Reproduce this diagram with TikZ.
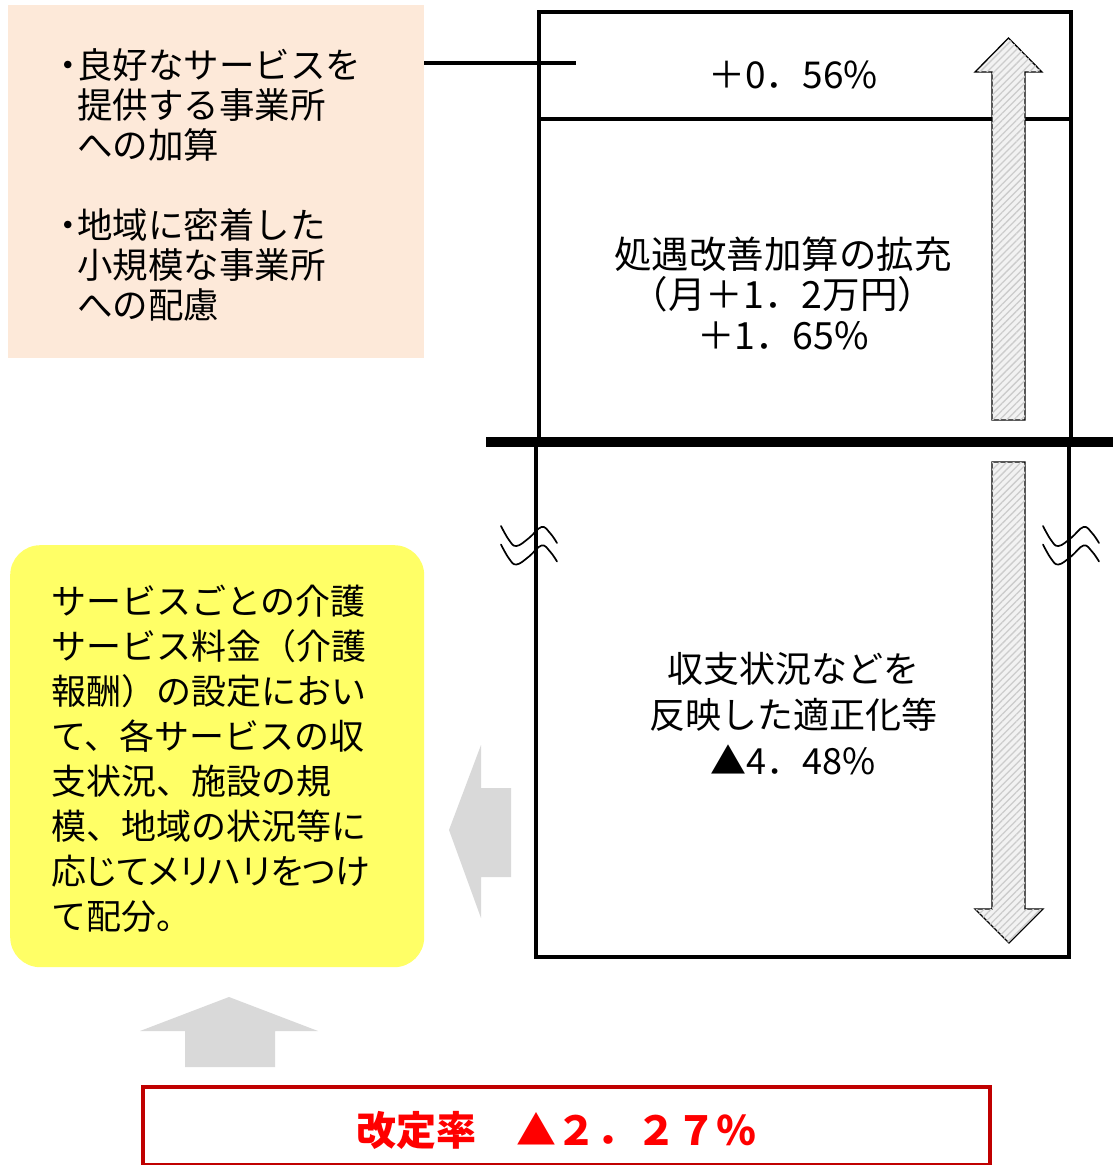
\documentclass[tikz,border=0pt]{standalone}
\usepackage{fontspec}
\usetikzlibrary{patterns.meta}
\newfontfamily\jp{Noto Sans CJK JP}
\newfontfamily\jpprop[RawFeature=+palt]{Noto Sans CJK JP}
\definecolor{peach}{HTML}{FDE9D9}
\definecolor{yel}{HTML}{FFFF66}
\definecolor{garrow}{HTML}{D9D9D9}
\definecolor{darkred}{HTML}{C00000}
\tikzset{
  boxline/.style={draw=black, line width=4.2pt},
  hatcharrow/.style={draw=black, line width=1.3pt, fill=gray!10, postaction={pattern={Lines[angle=45, distance=5pt, line width=1.3pt]}, pattern color=gray!40}},
  grayarrow/.style={fill=garrow, draw=none},
  breakmark/.style={draw=black, line width=1.7pt, line cap=round},
  txt/.style={inner sep=0pt, font=\jp, align=center},
}
\begin{document}
\begin{tikzpicture}[x=1pt, y=-1pt]
\useasboundingbox (0,0) rectangle (1113,1165);
\fill[white] (0,0) rectangle (1113,1165);

% peach box
\node[fill=peach, minimum width=416pt, minimum height=353pt, inner sep=0pt, anchor=north west] (peach) at (8,5) {};
\node[txt, align=left, anchor=west, font=\jp\fontsize{35.5}{40}\selectfont] (peachtxt) at (59,185)
 {\makebox[18pt][c]{・}良好なサービスを\\\hspace*{18pt}提供する事業所\\\hspace*{18pt}への加算\\[40pt]\makebox[18pt][c]{・}地域に密着した\\\hspace*{18pt}小規模な事業所\\\hspace*{18pt}への配慮};

% main boxes
\node[boxline, minimum width=532pt, minimum height=107pt, inner sep=0pt, anchor=north west] (topbox) at (537,10) {};
\node[boxline, minimum width=532pt, minimum height=325pt, inner sep=0pt, anchor=north west] (midbox) at (537,117) {};
\node[boxline, minimum width=533pt, minimum height=513pt, inner sep=0pt, anchor=north west] (lowbox) at (534,442) {};
\coordinate (thickL) at (486,442);
\coordinate (thickR) at (1113,442);
\draw[line width=10pt] (thickL) -- (thickR);

% connector from peach box
\coordinate (lineend) at (576,63);
\draw[line width=3.3pt] (peach.east |- lineend) -- (lineend);

% hatched arrows
\path[hatcharrow] (992,420) -- (992,72) -- (975,72) -- (1008.5,38) -- (1042,72) -- (1025,72) -- (1025,420) -- cycle;
\path[hatcharrow] (992,462) -- (992,909) -- (975,909) -- (1009,943) -- (1043,909) -- (1025,909) -- (1025,462) -- cycle;

% break marks
\foreach \dx in {0,542}{
  \foreach \dy in {0,18.5}{
    \draw[breakmark, xshift=\dx pt, yshift=-\dy pt] plot[smooth, tension=0.7] coordinates {(501,526) (509,540) (516.5,546) (529,538) (541.5,527) (550,533) (557,543)};
  }
}

% middle texts
\node[txt, font=\jp\fontsize{37}{40}\selectfont] (t056) at (793,75) {＋0．56\%};
\node[txt, font=\jp\fontsize{37.5}{40.5}\selectfont] (t165) at (783,293) {処遇改善加算の拡充\\（月＋1．2万円）\\＋1．65\%};
\node[txt, font=\jp\fontsize{36}{46}\selectfont] (t448) at (793,714) {収支状況などを\\反映した適正化等\\▲4．48\%};

% yellow box
\node[fill=yel, rounded corners=30pt, minimum width=414pt, minimum height=422pt, inner sep=0pt, anchor=north west] (yellow) at (10,545) {};
\node[txt, align=left, anchor=west, font=\jp\fontsize{35}{45}\selectfont] (yeltxt) at (51,758.5)
 {サービスごとの介護\\サービス料金（介護\\報酬）の設定におい\\て、各サービスの収\\支状況、施設の規\\模、地域の状況等に\\{\jpprop 応じてメリハリをつけ}\\て配分。};

% gray arrows
\path[grayarrow] (511,788) -- (481,788) -- (481,745) -- (449,830) -- (481,918) -- (481,877) -- (511,877) -- cycle;
\path[grayarrow] (185,1067) -- (185,1031) -- (140,1031) -- (229,997) -- (318,1031) -- (275,1031) -- (275,1067) -- cycle;

% red box
\node[draw=darkred, line width=4pt, minimum width=847pt, minimum height=78pt, inner sep=0pt, anchor=north west] (redbox) at (141,1085) {};
\node[txt, font=\jp\bfseries\fontsize{40}{44}\selectfont, text=red] (rate) at (556,1130) {改定率　▲２．２７％};
\end{tikzpicture}
\end{document}
